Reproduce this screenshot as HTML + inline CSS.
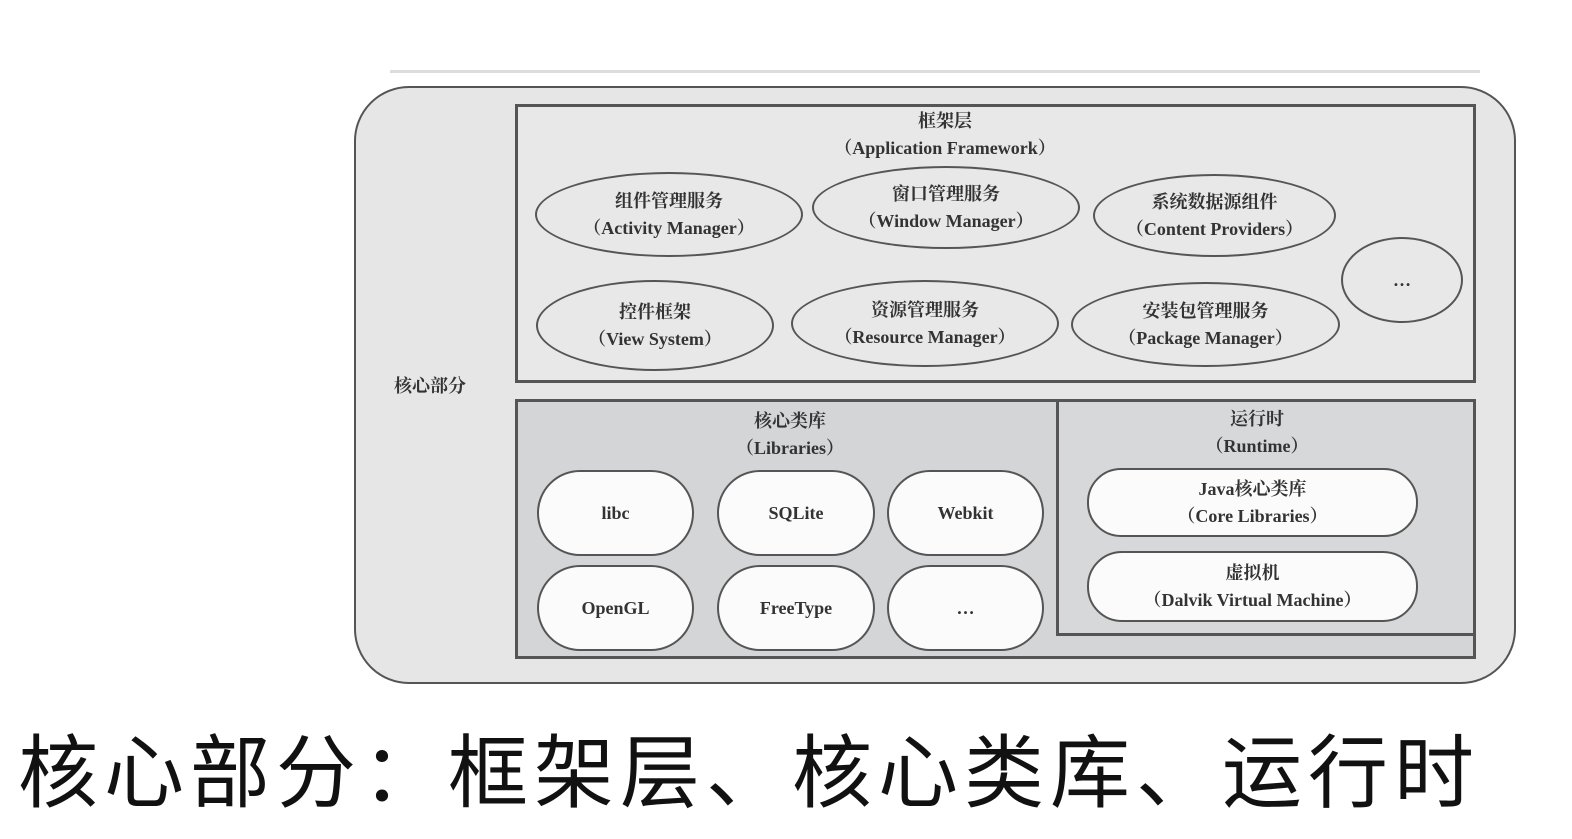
<!DOCTYPE html>
<html><head><meta charset="utf-8"><style>
body{margin:0;width:1572px;height:839px;background:#fff;position:relative;overflow:hidden;font-family:"Liberation Serif","Noto Serif CJK SC",serif;color:#333}
div{position:absolute;box-sizing:border-box}
.t{text-align:center;font-size:18px;line-height:27px;font-weight:bold;display:flex;flex-direction:column;justify-content:center;align-items:center}
.e{border:2px solid #555;border-radius:50%;background:#e8e8e8}
.p{border:2px solid #555;border-radius:40px;background:#fbfbfb}
</style></head><body>
<div style="left:390px;top:70px;width:1090px;height:3px;background:#ddd"></div>
<div style="left:354px;top:86px;width:1162px;height:598px;border:2px solid #555;border-radius:55px;background:#e6e6e6"></div>
<div class="t" style="left:380px;top:372px;width:100px;height:28px">核心部分</div>
<div style="left:515px;top:104px;width:961px;height:279px;border:3px solid #555;background:#e8e8e8"></div>
<div class="t" style="left:800px;top:108px;width:290px;height:54px">框架层<span>（Application Framework）</span></div>
<div class="t e" style="left:535px;top:172px;width:268px;height:85px">组件管理服务<span>（Activity Manager）</span></div>
<div class="t e" style="left:812px;top:166px;width:268px;height:83px">窗口管理服务<span>（Window Manager）</span></div>
<div class="t e" style="left:1093px;top:174px;width:243px;height:83px">系统数据源组件<span>（Content Providers）</span></div>
<div class="t e" style="left:1341px;top:237px;width:122px;height:86px">…</div>
<div class="t e" style="left:536px;top:280px;width:238px;height:91px">控件框架<span>（View System）</span></div>
<div class="t e" style="left:791px;top:280px;width:268px;height:87px">资源管理服务<span>（Resource Manager）</span></div>
<div class="t e" style="left:1071px;top:282px;width:269px;height:85px">安装包管理服务<span>（Package Manager）</span></div>
<div style="left:515px;top:399px;width:961px;height:260px;border:3px solid #555;background:#d3d5d7"></div>
<div style="left:1056px;top:399px;width:420px;height:237px;border:3px solid #555;background:#d6d8da"></div>
<div class="t" style="left:690px;top:407px;width:200px;height:56px">核心类库<span>（Libraries）</span></div>
<div class="t p" style="left:537px;top:470px;width:157px;height:86px;border-radius:45px">libc</div>
<div class="t p" style="left:717px;top:470px;width:158px;height:86px;border-radius:45px">SQLite</div>
<div class="t p" style="left:887px;top:470px;width:157px;height:86px;border-radius:45px">Webkit</div>
<div class="t p" style="left:537px;top:565px;width:157px;height:86px;border-radius:45px">OpenGL</div>
<div class="t p" style="left:717px;top:565px;width:158px;height:86px;border-radius:45px">FreeType</div>
<div class="t p" style="left:887px;top:565px;width:157px;height:86px;border-radius:45px">…</div>
<div class="t" style="left:1157px;top:405px;width:200px;height:56px">运行时<span>（Runtime）</span></div>
<div class="t p" style="left:1087px;top:468px;width:331px;height:69px;border-radius:34px">Java核心类库<span>（Core Libraries）</span></div>
<div class="t p" style="left:1087px;top:551px;width:331px;height:71px;border-radius:35px">虚拟机<span>（Dalvik Virtual Machine）</span></div>
<div style="left:18px;top:724px;width:1540px;height:100px;font-family:'Liberation Sans','Noto Sans CJK SC',sans-serif;font-size:80px;line-height:100px;letter-spacing:6px;color:#111;white-space:nowrap">核心部分：框架层、核心类库、运行时</div>
</body></html>
